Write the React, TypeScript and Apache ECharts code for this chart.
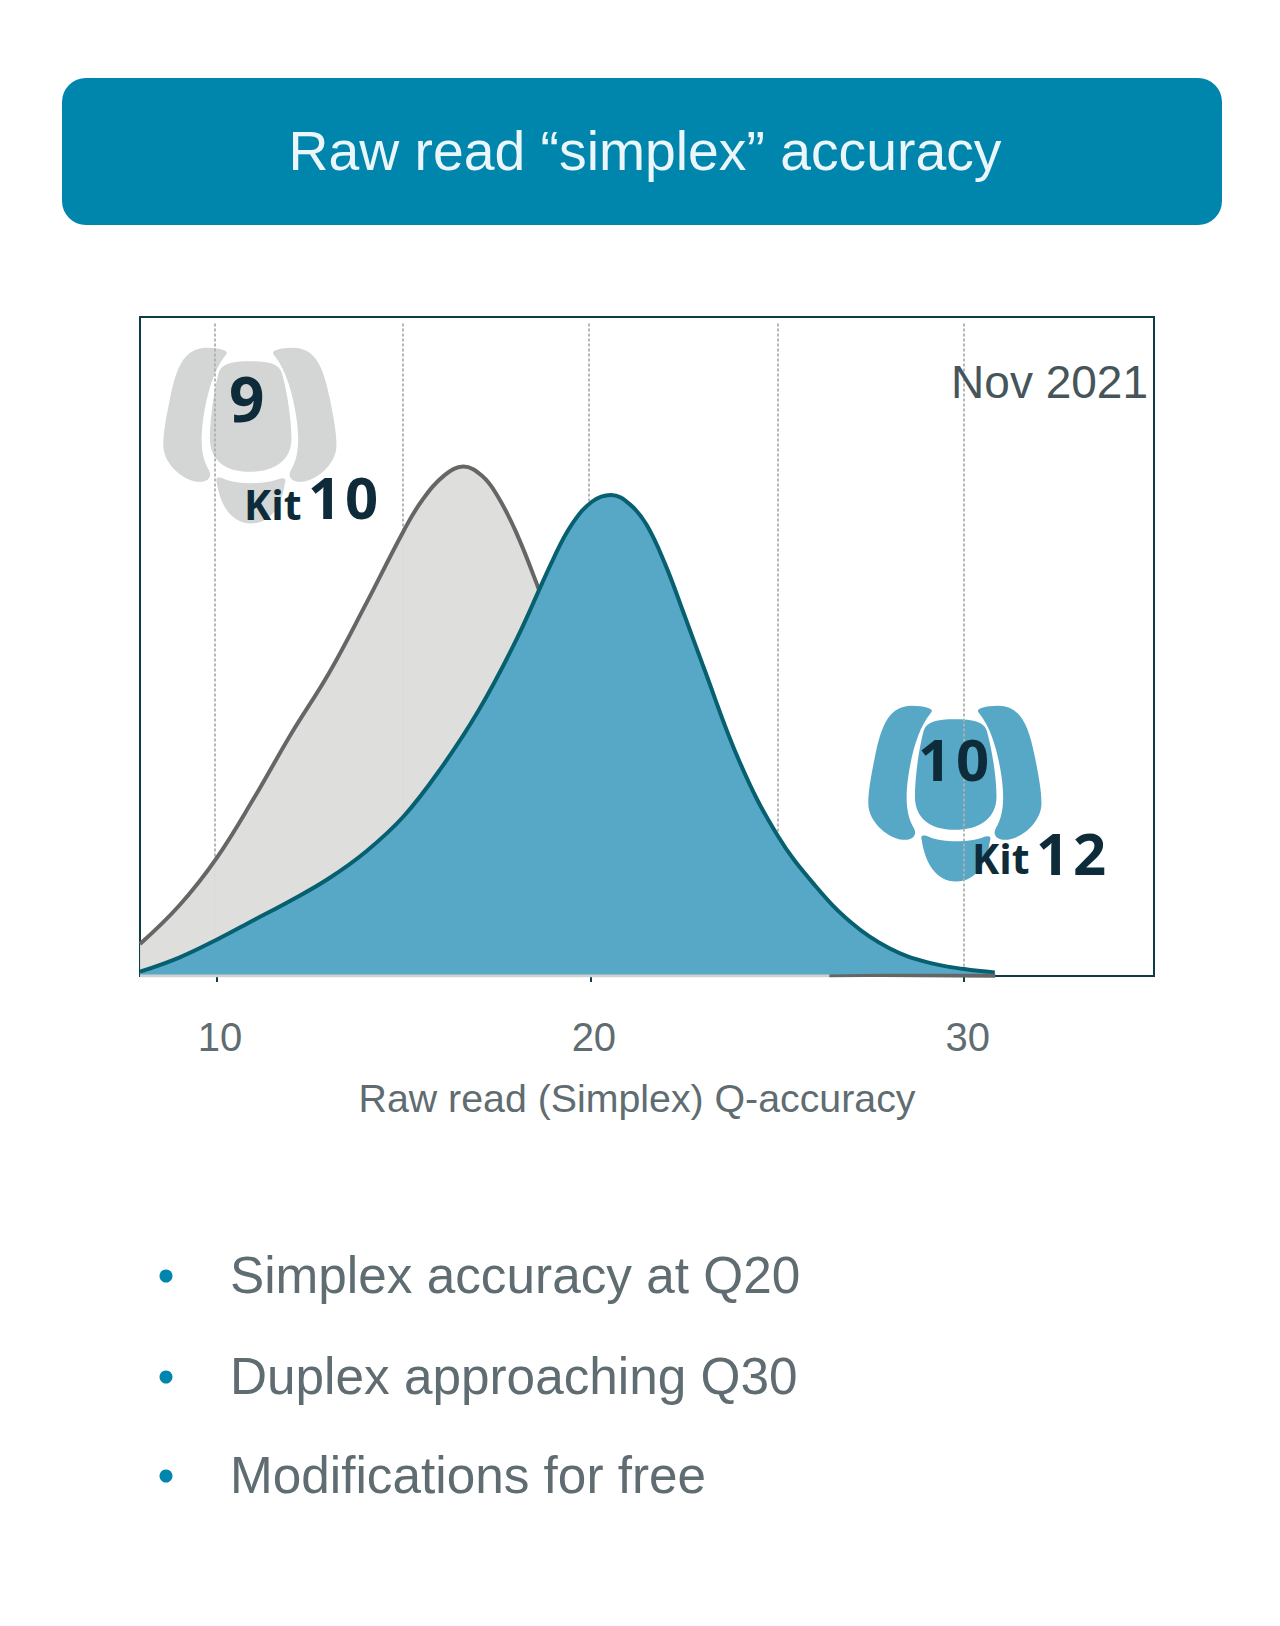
/**
 * Raw read "simplex" accuracy slide, drawn as one ECharts canvas
 */
import { useEffect, useRef } from 'react';
import * as echarts from 'echarts';

// density curves, x = Q-accuracy, y = relative height (0-100)
const kit10X = [7.95, 9, 10, 11, 12, 13, 14, 15, 15.5, 16.1, 16.6, 17.1, 17.5, 18, 18.6, 19.2, 20, 21, 22, 23, 24, 25, 26.4, 27.8, 30.83];
const kit10Y = [4.86, 10.7, 17.9, 27, 36.8, 45.9, 56.5, 67.5, 72.2, 76, 77.3, 75.9, 73, 67.5, 59, 49.8, 38, 25.5, 15.5, 8.5, 3.8, 1.3, 0.3, 0.15, 0.05];
const kit12X = [7.95, 9, 10, 11, 12, 13, 14, 15, 16, 17, 18, 19, 19.5, 20.05, 20.55, 21.05, 21.5, 22, 22.5, 23, 24, 25, 26, 27, 28, 29, 30, 30.82];
const kit12Y = [0.65, 2.8, 5.5, 8.5, 11.5, 14.8, 18.9, 24.2, 31.5, 40.2, 50.8, 63.2, 68.5, 72, 73, 71.6, 68.5, 62.5, 55, 47.3, 32.4, 21.4, 13.8, 8, 4.2, 2.1, 1.05, 0.55];
// the pale line left along the floor of the plot, and the dark end of the Kit 10 tail
const floorX = [7.95, 26.4];
const floorY = [0, 0];
const tailX = [26.4, 27.78, 30.83];
const tailY = [0, 0.1, 0.1];

const tickValues = [10, 20, 30];
const gridValues = [9.95, 14.97, 19.96, 25, 30];
const bulletLines = ['Simplex accuracy at Q20', 'Duplex approaching Q30', 'Modifications for free'];

const titleText = 'Raw read \u201csimplex\u201d accuracy';
const axisTitle = 'Raw read (Simplex) Q-accuracy';
const dateText = 'Nov 2021';

const TEAL = '#0085ad';
const FRAME = '#0f3d47';
const LABEL = '#5f6c71';
const INK = '#0d2b38';
const SANS = '"Liberation Sans", Arial, sans-serif';

// flow cell logo outline
const logoPath =
  'M272 100 C285 88 265 78 215 77 C150 78 125 130 105 230 C95 280 85 330 85 370 C85 430 150 480 195 480 C222 480 232 462 222 445 C200 410 195 360 205 290 C215 220 235 145 272 100 Z ' +
  'M418 100 C405 88 425 78 475 77 C540 78 565 130 585 230 C595 280 605 330 605 370 C605 430 540 480 495 480 C468 480 458 462 468 445 C490 410 495 360 485 290 C475 220 455 145 418 100 Z ' +
  'M345 118 C400 118 430 125 440 150 C455 200 470 290 470 350 C470 415 420 450 345 450 C270 450 225 415 225 350 C225 290 238 200 252 150 C262 125 290 118 345 118 Z ' +
  'M245 478 C240 465 255 465 270 472 C310 488 390 488 430 472 C450 465 455 470 450 485 C440 550 410 605 348 605 C290 605 255 550 245 478 Z';

echarts.graphic.registerShape('flowcell', echarts.graphic.extendPath(logoPath, {}));

function toPairs(xs: number[], ys: number[]) {
  return xs.map((x, i) => [x, ys[i]]);
}

function kitLabel(text: string, x: number, y: number, size: number) {
  return {
    type: 'text',
    z: 10,
    style: {
      text,
      x,
      y,
      fill: INK,
      font: `bold ${size}px "Open Sans", sans-serif`,
      textAlign: 'left',
      textVerticalAlign: 'middle',
    },
  };
}

export default function App() {
  const chartRef = useRef<HTMLDivElement>(null);

  useEffect(() => {
    if (!chartRef.current) return;
    const instance = echarts.init(chartRef.current, undefined, { renderer: 'svg' });

    instance.setOption({
      animation: false,
      backgroundColor: '#fff',
      title: {
        text: titleText,
        left: 640,
        top: 118,
        textAlign: 'center',
        textStyle: { fontFamily: SANS, fontSize: 55.3, fontWeight: 'normal', color: '#eaf6fa' },
      },
      grid: { left: 140, top: 317, width: 1014, height: 659, show: true, borderColor: FRAME, borderWidth: 2, backgroundColor: 'transparent' },
      xAxis: {
        type: 'value',
        min: 7.95,
        max: 35.08,
        name: axisTitle,
        nameLocation: 'middle',
        nameGap: 102,
        nameTextStyle: { fontFamily: SANS, fontSize: 39.3, color: LABEL, padding: [0, 20, 0, 0] },
        splitLine: { show: false },
        axisLine: { show: true, lineStyle: { color: FRAME, width: 2 } },
        axisTick: { show: true, length: 6, customValues: tickValues, lineStyle: { color: FRAME, width: 2 } },
        axisLabel: { customValues: tickValues, fontFamily: SANS, fontSize: 40, color: LABEL, margin: 41, padding: [0, 0, 0, 7] },
      },
      yAxis: { type: 'value', min: 0, max: 100, show: false, splitLine: { show: false } },
      series: [
        {
          name: 'grid',
          type: 'line',
          z: 1,
          data: [],
          silent: true,
          markLine: {
            silent: true,
            z: 1,
            symbol: 'none',
            label: { show: false },
            lineStyle: { color: '#b0b0b0', type: [3, 2], width: 1.8 },
            data: gridValues.map((v) => [
              { xAxis: v, yAxis: 99 },
              { xAxis: v, yAxis: 0 },
            ]),
          },
        },
        {
          name: 'Kit 10',
          type: 'line',
          z: 2,
          smooth: 0.4,
          symbol: 'none',
          data: toPairs(kit10X, kit10Y),
          lineStyle: { color: '#666666', width: 4 },
          areaStyle: { color: '#dcdcda', opacity: 0.95 },
        },
        {
          name: 'Kit 12',
          type: 'line',
          z: 3,
          smooth: 0.4,
          symbol: 'none',
          data: toPairs(kit12X, kit12Y),
          lineStyle: { color: '#07606f', width: 4 },
          areaStyle: { color: '#57a8c6', opacity: 1 },
        },
        {
          name: 'floor',
          type: 'line',
          z: 4,
          symbol: 'none',
          silent: true,
          data: toPairs(floorX, floorY),
          lineStyle: { color: '#cfd0d0', width: 3 },
        },
        {
          name: 'tail',
          type: 'line',
          z: 4,
          symbol: 'none',
          silent: true,
          data: toPairs(tailX, tailY),
          lineStyle: { color: '#666666', width: 3 },
        },
      ],
      graphic: [
        { type: 'rect', z: 0, shape: { x: 62, y: 78, width: 1160, height: 147, r: 24 }, style: { fill: TEAL } },
        { type: 'flowcell', z: 0, x: 135, y: 322, scaleX: 1 / 3, scaleY: 1 / 3, style: { fill: '#d4d5d5' } },
        { type: 'flowcell', z: 0, x: 840, y: 680, scaleX: 1 / 3, scaleY: 1 / 3, style: { fill: '#57a8c6' } },
        kitLabel('9', 229, 398, 62),
        kitLabel('Kit', 244, 504, 41),
        kitLabel('1', 308, 496, 58),
        kitLabel('0', 345, 496, 58),
        kitLabel('1', 918, 758, 58),
        kitLabel('0', 956, 758, 58),
        kitLabel('Kit', 972, 858, 41),
        kitLabel('1', 1036, 852, 58),
        kitLabel('2', 1073, 852, 58),
        {
          type: 'text',
          z: 10,
          style: { text: dateText, x: 1148, y: 382, fill: '#46555a', font: `46px ${SANS}`, textAlign: 'right', textVerticalAlign: 'middle' },
        },
        ...bulletLines.flatMap((line, i) => {
          const y = [1275, 1376, 1475][i];
          return [
            { type: 'circle', z: 10, shape: { cx: 166, cy: y + 1, r: 6.5 }, style: { fill: TEAL } },
            { type: 'text', z: 10, style: { text: line, x: 230, y, fill: LABEL, font: `51.3px ${SANS}`, textAlign: 'left', textVerticalAlign: 'middle' } },
          ];
        }),
      ],
    });

    return () => instance.dispose();
  }, []);

  return <div ref={chartRef} style={{ position: 'absolute', left: 0, top: 0, width: 1280, height: 1626 }} />;
}
